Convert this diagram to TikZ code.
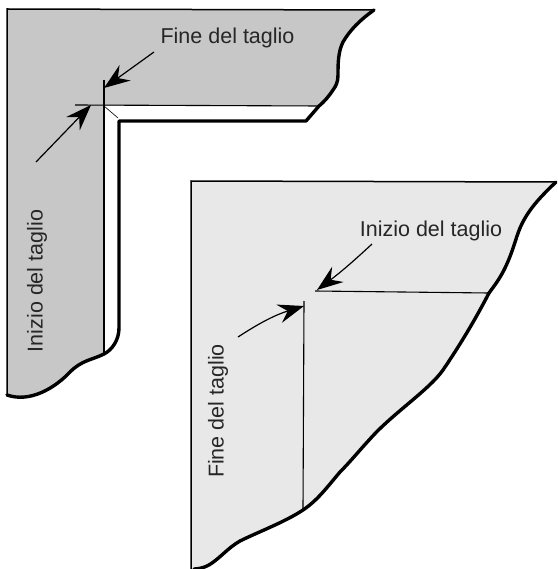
\documentclass[tikz,border=0pt]{standalone}
\usepackage{fontspec}
\setmainfont{Liberation Sans}
\usetikzlibrary{positioning, arrows.meta}

\begin{document}
\begin{tikzpicture}[x=1pt, y=-1pt,
        thin line/.style = {line width=1.1pt},
        edge line/.style = {line width=1.5pt},
        heavy line/.style = {line width=3.4pt, line join=round, line cap=round},
        pointer/.style = {line width=1.2pt, -{Stealth[length=26pt, width=19pt, inset=9pt]}},
        label/.style = {font=\fontsize{21.5}{24}\selectfont, text=black!85, inner sep=0pt}]
        \useasboundingbox (0,0) rectangle (557,569);
        % upper piece
        \fill[black!22] (7,9) -- (374,10)
            .. controls (360,20) and (350,30) .. (343,42)
            .. controls (338,52) and (338,64) .. (338,75)
            .. controls (338,82) and (336,86) .. (333,90)
            .. controls (329,96) and (325,101) .. (319,106)
            -- (104,106) -- (104,353)
            .. controls (92,360) and (82,360) .. (70,372)
            .. controls (55,388) and (30,403) .. (7,395) -- cycle;
        \draw[edge line] (7,395) -- (7,9) -- (374,10);
        \draw[heavy line] (374,10)
            .. controls (360,20) and (350,30) .. (343,42)
            .. controls (338,52) and (338,64) .. (338,75)
            .. controls (338,82) and (336,86) .. (333,90)
            .. controls (329,96) and (325,101) .. (319,106)
            -- (306,121) -- (119,121) -- (119,328)
            .. controls (119,340) and (112,350) .. (104,354)
            .. controls (92,360) and (82,360) .. (70,372)
            .. controls (55,388) and (30,403) .. (7,395);
        \draw[thin line] (75,105) -- (320,106);
        \draw[thin line] (104,80) -- (104,353);
        \draw[line width=0.6pt] (104,106) -- (118,118);
        % lower piece
        \fill[black!9] (191,181) -- (556,182)
            .. controls (537,200) and (527,212) .. (520,228)
            .. controls (515,240) and (513,252) .. (504,270)
            .. controls (500,278) and (495,285) .. (489,293)
            .. controls (475,320) and (460,345) .. (443,370)
            .. controls (429,390) and (392,414) .. (370,439)
            .. controls (358,452) and (350,462) .. (340,472)
            .. controls (328,486) and (318,500) .. (303,510)
            .. controls (285,522) and (258,532) .. (240,541)
            .. controls (228,548) and (222,556) .. (212,563)
            .. controls (205,568) and (198,569) .. (191,569) -- cycle;
        \draw[edge line] (191,569) -- (191,181) -- (556,182);
        \draw[heavy line] (556,182)
            .. controls (537,200) and (527,212) .. (520,228)
            .. controls (515,240) and (513,252) .. (504,270)
            .. controls (500,278) and (495,285) .. (489,293)
            .. controls (475,320) and (460,345) .. (443,370)
            .. controls (429,390) and (392,414) .. (370,439)
            .. controls (358,452) and (350,462) .. (340,472)
            .. controls (328,486) and (318,500) .. (303,510)
            .. controls (285,522) and (258,532) .. (240,541)
            .. controls (228,548) and (222,556) .. (212,563)
            .. controls (205,568) and (198,569) .. (194,569);
        \draw[thin line] (315,291) -- (489,293);
        \draw[thin line] (304,301) -- (303,509);
        % labels
        \node[label] (fine1) at (227.5,38) {Fine del taglio};
        \node[label, rotate=90] (inizio1) at (37,281) {Inizio del taglio};
        \node[label] (inizio2) at (431,231) {Inizio del taglio};
        \node[label, rotate=90] (fine2) at (218,411) {Fine del taglio};
        % arrows
        \coordinate (a1) at (154,52);
        \coordinate (b1) at (104,88);
        \coordinate (a2) at (36,162);
        \coordinate (b2) at (91,105);
        \coordinate (a3) at (372,244);
        \coordinate (b3) at (317,290);
        \coordinate (a4) at (238,337);
        \coordinate (b4) at (304,306);
        \draw[pointer] (a1) -- (b1);
        \draw[pointer] (a2) -- (b2);
        \draw[pointer] (a3) to[bend left=3] (b3);
        \draw[pointer] (a4) to[bend left=8] (b4);
    \end{tikzpicture}
\end{document}
